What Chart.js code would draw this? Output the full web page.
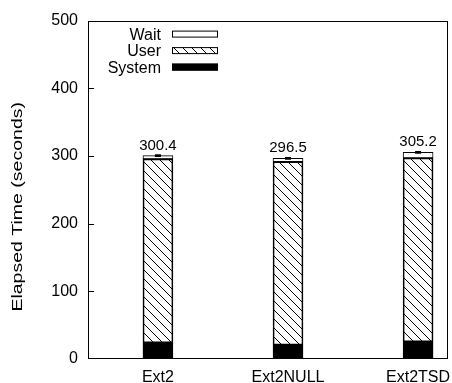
<!DOCTYPE html>
<html>
<head>
<meta charset="utf-8">
<script src="https://cdn.jsdelivr.net/npm/chart.js@4.4.0/dist/chart.umd.min.js"></script>
<style>
html, body { margin: 0; padding: 0; background: #fff; }
</style>
</head>
<body>
<canvas id="elapsedChart" width="452" height="383"></canvas>
<script>
// elapsed time per file system, split into system / user / wait
var fsNames    = ['Ext2', 'Ext2NULL', 'Ext2TSD'];
var systemTime = [24.0, 20.5, 25.5];
var userTime   = [271.8, 271.0, 271.5];
var waitTime   = [4.6, 5.0, 8.2];
var totalErr   = [1.0, 1.0, 1.0];
var yTickStep  = 100;

var FONT = 'Liberation Sans, Arial, Helvetica, sans-serif';

function totalFor(i) {
  return systemTime[i] + userTime[i] + waitTime[i];
}

// "\\\" hatch used for user time
function makeHatch() {
  var s = 9;
  var c = document.createElement('canvas');
  c.width = s; c.height = s;
  var g = c.getContext('2d');
  g.strokeStyle = '#000';
  g.lineWidth = 1;
  g.beginPath();
  for (var k = -s; k <= s; k += s) {
    g.moveTo(k, 0);
    g.lineTo(k + s, s);
  }
  g.stroke();
  return g.createPattern(c, 'repeat');
}
var hatch = makeHatch();

function points(arr) {
  return arr.map(function (v, i) { return { x: i, y: v }; });
}

var legendItems = [
  { label: 'Wait',   fill: '#ffffff' },
  { label: 'User',   fill: hatch },
  { label: 'System', fill: '#000000' }
];

// frame, inward ticks, error bars, value labels, legend and y title
var gnuplotLook = {
  id: 'gnuplotLook',
  afterDatasetsDraw: function (chart) {
    var ctx = chart.ctx, a = chart.chartArea;
    var xs = chart.scales.x, ys = chart.scales.y;
    ctx.save();

    // error bars + totals above each stack
    ctx.strokeStyle = '#000';
    ctx.lineWidth = 1.5;
    ctx.fillStyle = '#000';
    ctx.font = '15px ' + FONT;
    ctx.textAlign = 'center';
    ctx.textBaseline = 'alphabetic';
    for (var i = 0; i < fsNames.length; i++) {
      var t = totalFor(i);
      var px = xs.getPixelForValue(i);
      var hi = ys.getPixelForValue(t + totalErr[i]);
      var lo = ys.getPixelForValue(t - totalErr[i]);
      ctx.beginPath();
      ctx.moveTo(px, hi); ctx.lineTo(px, lo);
      ctx.moveTo(px - 3, hi); ctx.lineTo(px + 3, hi);
      ctx.moveTo(px - 3, lo); ctx.lineTo(px + 3, lo);
      ctx.stroke();
      ctx.fillText(t.toFixed(1), px, ys.getPixelForValue(t) - 6);
    }

    // plot frame
    ctx.lineWidth = 1;
    ctx.strokeRect(Math.round(a.left) - 0.5, Math.round(a.top) + 0.5,
                   Math.round(a.right - a.left), Math.round(a.bottom - a.top) - 1);

    // inward y ticks
    ctx.beginPath();
    for (var v = ys.min + yTickStep; v < ys.max; v += yTickStep) {
      var py = Math.round(ys.getPixelForValue(v)) + 0.5;
      ctx.moveTo(a.left, py); ctx.lineTo(a.left + 5, py);
    }
    ctx.stroke();

    // legend: text right-aligned, swatch to its right
    ctx.font = '16px ' + FONT;
    ctx.textAlign = 'right';
    ctx.textBaseline = 'middle';
    legendItems.forEach(function (it, k) {
      var cy = a.top + 13.5 + k * 16.5;
      ctx.fillStyle = '#000';
      ctx.fillText(it.label, a.left + 72, cy + 1);
      ctx.fillStyle = it.fill;
      ctx.fillRect(a.left + 83, cy - 3.5, 46, 7);
      ctx.strokeRect(a.left + 83.5, cy - 3, 45, 6);
    });

    // rotated y axis title
    ctx.translate(18, (a.top + a.bottom) / 2 + 17);
    ctx.rotate(-Math.PI / 2);
    ctx.scale(1.3, 1);
    ctx.font = '15px ' + FONT;
    ctx.textAlign = 'center';
    ctx.fillStyle = '#000';
    ctx.fillText('Elapsed Time (seconds)', 0, 0);
    ctx.restore();
  }
};

var barStyle = { borderColor: '#000', borderWidth: 1, borderSkipped: false, barThickness: 30 };

new Chart(document.getElementById('elapsedChart').getContext('2d'), {
  type: 'bar',
  data: {
    datasets: [
      Object.assign({ label: 'System', data: points(systemTime), backgroundColor: '#000' }, barStyle),
      Object.assign({ label: 'User',   data: points(userTime),   backgroundColor: hatch }, barStyle),
      Object.assign({ label: 'Wait',   data: points(waitTime),   backgroundColor: '#fff' }, barStyle)
    ]
  },
  options: {
    responsive: false,
    animation: false,
    devicePixelRatio: 1,
    layout: { padding: { top: 20, right: 4, left: 0, bottom: 0 } },
    plugins: { legend: { display: false }, tooltip: { enabled: false } },
    scales: {
      x: {
        type: 'linear',
        stacked: true,
        offset: false,
        min: -0.53,
        max: 2.23,
        grid: { display: false, drawTicks: false, offset: false },
        border: { display: false },
        afterBuildTicks: function (scale) {
          scale.ticks = fsNames.map(function (n, i) { return { value: i }; });
        },
        afterFit: function (scale) {
          scale.height = 24;
          scale.paddingLeft = 0;
          scale.paddingRight = 0;
        },
        ticks: {
          autoSkip: false,
          maxRotation: 0,
          padding: 9,
          color: '#000',
          font: { family: FONT, size: 16 },
          callback: function (value) { return fsNames[value]; }
        }
      },
      y: {
        stacked: true,
        min: 0,
        max: 500,
        grid: { display: false, drawTicks: false },
        border: { display: false },
        afterFit: function (scale) { scale.width = 89; },
        ticks: {
          stepSize: yTickStep,
          padding: 11,
          color: '#000',
          font: { family: FONT, size: 16 }
        }
      }
    }
  },
  plugins: [gnuplotLook]
});
</script>
</body>
</html>
